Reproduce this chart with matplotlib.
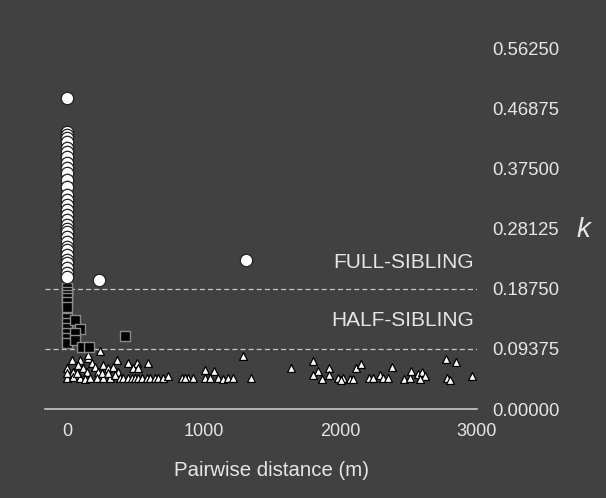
import matplotlib.pyplot as plt
import numpy as np

plt.rcParams['font.family'] = ['Liberation Sans', 'DejaVu Sans']

# Full-sibling pairs (circles)
full_dist = [0] * 32 + [234, 1310]
full_k = [0.484, 0.431, 0.427, 0.422, 0.416, 0.407, 0.400, 0.393, 0.383, 0.375,
          0.368, 0.357, 0.346, 0.333, 0.326, 0.318, 0.310, 0.302, 0.294, 0.287,
          0.280, 0.276, 0.268, 0.260, 0.252, 0.248, 0.240, 0.232, 0.227, 0.220,
          0.212, 0.206, 0.201, 0.232]

# Half-sibling pairs (squares)
half_dist = [0, 0, 0, 0, 0, 0, 0, 0, 0, 0, 0, 0, 60, 95, 60, 60, 110, 160, 425]
half_k = [0.188, 0.182, 0.178, 0.173, 0.167, 0.159, 0.142, 0.134, 0.126, 0.118,
          0.111, 0.103, 0.139, 0.125, 0.118, 0.107, 0.097, 0.097, 0.114]

# Unrelated pairs (triangles)
unrel_dist = [37, 95, 154, 154, 241, 366, 0, 44, 80, 117, 146, 183, 205, 227, 263,
              300, 336, 373, 0, 44, 95, 132, 168, 219, 263, 315, 351, 388, 0, 73,
              256, 300, 446, 512, 593, 483, 519, 410, 446, 475, 497, 519, 549, 585,
              607, 644, 666, 702, 739, 841, 885, 863, 922, 1009, 1075, 1009, 1046,
              1105, 1141, 1178, 1214, 1287, 1346, 1639, 1800, 1836, 1800, 1865, 1917,
              1917, 1982, 2019, 2004, 2070, 2092, 2114, 2151, 2209, 2238, 2289, 2312,
              2348, 2377, 2465, 2509, 2516, 2568, 2597, 2619, 2582, 2772, 2846, 2780,
              2802, 2963]
unrel_k = [0.076, 0.076, 0.079, 0.084, 0.090, 0.076, 0.064, 0.058, 0.069, 0.064,
           0.058, 0.072, 0.065, 0.058, 0.069, 0.064, 0.065, 0.058, 0.048, 0.050,
           0.048, 0.047, 0.048, 0.048, 0.048, 0.048, 0.053, 0.048, 0.056, 0.056,
           0.056, 0.056, 0.072, 0.072, 0.072, 0.064, 0.064, 0.048, 0.048, 0.048,
           0.048, 0.048, 0.048, 0.048, 0.048, 0.048, 0.048, 0.048, 0.051, 0.048,
           0.048, 0.048, 0.048, 0.061, 0.059, 0.048, 0.048, 0.048, 0.047, 0.048,
           0.048, 0.083, 0.048, 0.064, 0.075, 0.059, 0.053, 0.047, 0.064, 0.053,
           0.048, 0.048, 0.045, 0.047, 0.047, 0.064, 0.070, 0.048, 0.048, 0.053,
           0.048, 0.048, 0.065, 0.047, 0.048, 0.059, 0.055, 0.057, 0.051, 0.047,
           0.078, 0.073, 0.048, 0.045, 0.051]

yticks = [0.0, 0.09375, 0.1875, 0.28125, 0.375, 0.46875, 0.5625]
xticks = [0, 1000, 2000, 3000]

bg = '#414141'
fg = '#e6e6e6'

fig = plt.figure(figsize=(6.06, 4.98), dpi=100, facecolor=bg)
ax = fig.add_axes([0.0743, 0.1787, 0.7128, 0.7249], facecolor=bg)

ax.axhline(0.1875, color='#c8c8c8', lw=0.9, ls=(0, (4, 2.5)), zorder=1)
ax.axhline(0.09375, color='#c8c8c8', lw=0.9, ls=(0, (4, 2.5)), zorder=1)

ax.scatter(unrel_dist, unrel_k, marker='^', s=32, c='white', edgecolors='black',
           linewidths=0.9, zorder=2)
ax.scatter(half_dist, half_k, marker='s', s=48, c='black', edgecolors='#8a8a8a',
           linewidths=1.0, zorder=3)
ax.scatter(full_dist, full_k, marker='o', s=80, c='white', edgecolors='#202020',
           linewidths=0.9, zorder=4)

ax.text(2980, 0.2285, 'FULL-SIBLING', color=fg, fontsize=15, ha='right', va='center')
ax.text(2980, 0.1375, 'HALF-SIBLING', color=fg, fontsize=15, ha='right', va='center')

ax.set_xlim(-161, 3000)
ax.set_ylim(0, 0.5625)
ax.set_xticks(xticks)
ax.set_yticks(yticks)
ax.set_yticklabels(['%.5f' % v for v in yticks])
ax.yaxis.tick_right()
ax.tick_params(axis='y', length=0, pad=11, labelsize=13.3, labelcolor=fg)
ax.tick_params(axis='x', length=0, pad=10, labelsize=13, labelcolor=fg)

for s in ['top', 'left', 'right']:
    ax.spines[s].set_visible(False)
ax.spines['bottom'].set_color('#c8c8c8')
ax.spines['bottom'].set_linewidth(1.2)

ax.set_xlabel('Pairwise distance (m)', color=fg, fontsize=14.7, labelpad=14)
ax.xaxis.set_label_coords(0.5 + 80 / 3161, -0.145)
fig.text(0.962, 0.538, 'k', color=fg, fontsize=20, style='italic', ha='center', va='center')

plt.savefig('out.png', dpi=100, facecolor=bg)
